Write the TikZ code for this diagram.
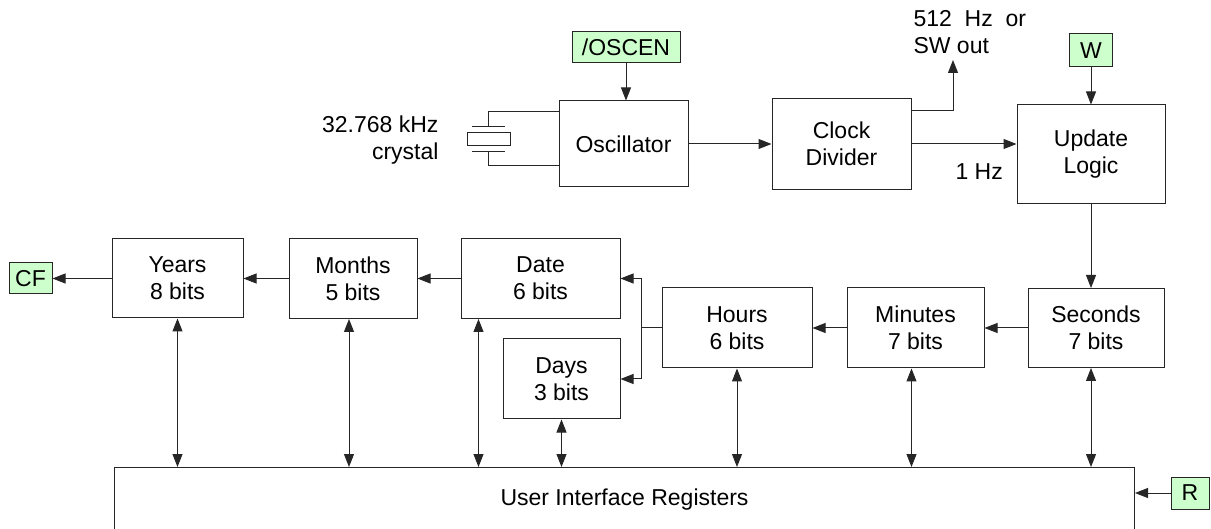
\documentclass[tikz,border=0pt]{standalone}
\usepackage{fontspec}
\setmainfont{Liberation Sans}
\usetikzlibrary{arrows.meta,positioning,calc}
\definecolor{pingreen}{RGB}{204,255,204}
\tikzset{
  blk/.style={draw=black!85,line width=1pt,align=center,inner sep=0pt},
  pin/.style={draw=black!85,fill=pingreen,line width=1pt,inner sep=0pt},
  wire/.style={draw=black!85,line width=1pt},
  sig/.style={wire,-{Triangle[length=13pt,width=10pt]}},
  bus/.style={wire,{Triangle[length=13pt,width=10pt]}-{Triangle[length=13pt,width=10pt]}}
}
\begin{document}
\begin{tikzpicture}[x=1pt,y=-1pt,font=\fontsize{23}{27}\selectfont]
  \useasboundingbox (0,0) rectangle (1211,529);
  % clock path
  \node[pin,minimum width=108,minimum height=31] (oscen) at (626,47.5) {/OSCEN};
  \node[blk,minimum width=129,minimum height=86] (osc) at (623.5,144) {Oscillator};
  \node[blk,minimum width=139,minimum height=91] (div) at (841.5,144) {Clock\\Divider};
  \node[blk,minimum width=148,minimum height=99] (upd) at (1091,154.5) {Update\\Logic};
  \node[pin,minimum width=43,minimum height=33] (w) at (1091,50.5) {W};
  \node[anchor=east,align=right] (xtal) at (442,140) {32.768 kHz\\crystal};
  \node[anchor=west,align=left] (swlbl) at (910,32) {512~~Hz~~or\\SW out};
  \node[anchor=west] (hz) at (952,172) {1 Hz};
  \coordinate (swout) at (953,60);

  % crystal
  \draw[wire] (559,112) -| (488,127);
  \draw[wire] (472,127) -- (505,127);
  \draw[wire] (467,133) rectangle (510,146);
  \draw[wire] (472,152) -- (505,152);
  \draw[wire] (488,152) |- (559,166);

  \draw[sig] (oscen.south) -- (oscen.south |- osc.north);
  \draw[sig] (osc.east) -- (div.west);
  \draw[sig] (div.east) -- (div.east -| upd.west);
  \draw[sig] ($(div.north east)+(0,13)$) -| (swout);
  \draw[sig] (w.south) -- (upd.north);

  % counter chain
  \node[blk,minimum width=136,minimum height=79] (sec) at (1096,328) {Seconds\\7 bits};
  \node[blk,minimum width=137,minimum height=80] (min) at (915.5,328) {Minutes\\7 bits};
  \node[blk,minimum width=150,minimum height=80] (hrs) at (737,328) {Hours\\6 bits};
  \node[blk,minimum width=159,minimum height=80] (date) at (540.5,278.5) {Date\\6 bits};
  \node[blk,minimum width=117,minimum height=80] (days) at (561.5,379) {Days\\3 bits};
  \node[blk,minimum width=128,minimum height=80] (months) at (353,278.5) {Months\\5 bits};
  \node[blk,minimum width=131,minimum height=79] (years) at (177.5,278.5) {Years\\8 bits};
  \node[pin,minimum width=43,minimum height=31] (cf) at (30.5,278.5) {CF};

  \draw[sig] (upd.south) -- (upd.south |- sec.north);
  \draw[sig] (sec.west) -- (min.east);
  \draw[sig] (min.west) -- (hrs.east);
  \draw[wire] (hrs.west) -- ++(-20,0) coordinate (fork);
  \draw[sig] (fork) |- (date.east);
  \draw[sig] (fork) |- (days.east);
  \draw[sig] (date.west) -- (months.east);
  \draw[sig] (months.west) -- (years.east);
  \draw[sig] (years.west) -- (cf.east);

  % registers
  \node[blk,minimum width=1020,minimum height=65,anchor=north west] (uir) at (114,467) {User Interface Registers};
  \node[pin,minimum width=38,minimum height=32] (r) at (1190,493) {R};
  \draw[sig] (r.west) -- (r.west -| uir.east);

  \coordinate (datebus) at ($(date.south west)+(18,0)$);
  \draw[bus] (years.south) -- (years.south |- uir.north);
  \draw[bus] ([xshift=-4]months.south) -- ([xshift=-4]months.south |- uir.north);
  \draw[bus] (datebus) -- (datebus |- uir.north);
  \draw[bus] (days.south) -- (days.south |- uir.north);
  \draw[bus] (hrs.south) -- (hrs.south |- uir.north);
  \draw[bus] ([xshift=-4]min.south) -- ([xshift=-4]min.south |- uir.north);
  \draw[bus] (upd.south |- sec.south) -- (upd.south |- uir.north);
\end{tikzpicture}
\end{document}
